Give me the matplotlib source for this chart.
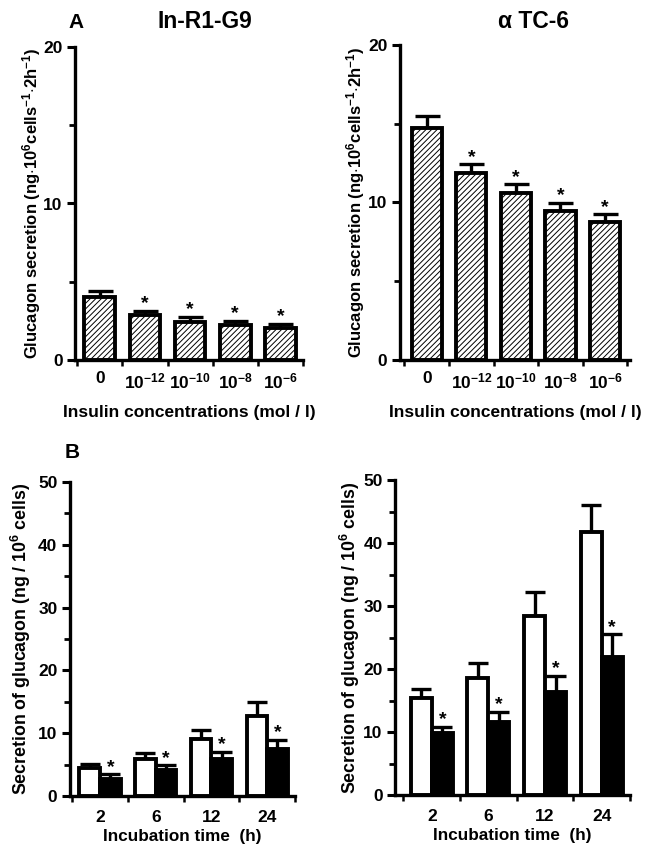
import matplotlib
matplotlib.use("Agg")
import matplotlib.pyplot as plt
import numpy as np

plt.rcParams.update({
    "font.family": ["Liberation Sans", "DejaVu Sans"],
    "font.weight": "bold",
    "axes.labelweight": "bold",
    "font.size": 12,
    "mathtext.fontset": "custom",
    "mathtext.rm": "Liberation Sans:bold",
    "mathtext.it": "Liberation Sans:bold",
    "mathtext.bf": "Liberation Sans:bold",
    "mathtext.default": "rm",
    "hatch.linewidth": 0.7,
    "axes.linewidth": 2.4,
})

# --- данные ---
conc_labels = ["0", "$10^{-12}$", "$10^{-10}$", "$10^{-8}$", "$10^{-6}$"]
inr_dose = [4.0, 2.85, 2.45, 2.22, 2.02]
inr_dose_err = [0.4, 0.3, 0.32, 0.27, 0.3]
atc_dose = [14.7, 11.85, 10.62, 9.48, 8.78]
atc_dose_err = [0.8, 0.57, 0.53, 0.51, 0.47]
dose_star = [False, True, True, True, True]

hours = ["2", "6", "12", "24"]
inr_ctrl = [4.5, 5.95, 9.1, 12.8]
inr_ctrl_err = [0.65, 0.95, 1.35, 2.1]
inr_ins = [2.75, 4.1, 5.95, 7.55]
inr_ins_err = [0.7, 0.8, 1.05, 1.4]
atc_ctrl = [15.4, 18.55, 28.4, 41.7]
atc_ctrl_err = [1.4, 2.35, 3.8, 4.4]
atc_ins = [9.85, 11.55, 16.4, 21.9]
atc_ins_err = [1.0, 1.6, 2.5, 3.6]

W, H = 657, 851
fig = plt.figure(figsize=(W / 100, H / 100), dpi=100)


def px_axes(x0, x1, ytop, ybot):
    return fig.add_axes([x0 / W, 1 - ybot / H, (x1 - x0) / W, (ybot - ytop) / H])


def style(ax, ymax, ystep, xlim, bounds, xpad):
    for s in ("top", "right"):
        ax.spines[s].set_visible(False)
    ax.set_ylim(0, ymax)
    ax.set_xlim(*xlim)
    ax.set_yticks(np.arange(0, ymax + 0.1, ystep))
    ax.set_yticks(np.arange(ystep / 2, ymax, ystep), minor=True)
    ax.tick_params(axis="y", which="major", length=6, width=2.2, labelsize=12.5, pad=3)
    ax.tick_params(axis="y", which="minor", length=4, width=2)
    ax.set_xticks(bounds, minor=True)
    ax.tick_params(axis="x", which="minor", length=4, width=1.8, direction="out")
    ax.tick_params(axis="x", which="major", length=0, labelsize=12.5, pad=xpad)


def star(ax, x, y):
    ax.annotate("*", (x, y), xytext=(0, -1), textcoords="offset points",
                ha="center", va="bottom", fontsize=14, fontweight="bold")


def dose_panel(ax, means, errs, xlim, ylabel, ypad):
    x = np.arange(len(means))
    ax.errorbar(x, means, yerr=[np.zeros(len(errs)), errs], fmt="none", ecolor="k",
                elinewidth=2.4, capsize=9, capthick=2.4, zorder=1)
    ax.bar(x, means, width=0.68, color="white", edgecolor="k", hatch="//////",
           linewidth=2.8, zorder=2)
    for xi, m, e, s in zip(x, means, errs, dose_star):
        if s:
            star(ax, xi, m + e)
    style(ax, 20, 10, xlim, np.arange(-0.5, len(means), 1.0), 8)
    ax.set_xticks(x)
    ax.set_xticklabels(conc_labels)
    ax.set_xlabel("Insulin concentrations (mol / l)", fontsize=12.5, labelpad=10)
    ax.set_ylabel(ylabel, fontsize=12, labelpad=ypad)


def time_panel(ax, ctrl, ctrl_err, ins, ins_err, xlim, ylabel, ypad):
    x = np.arange(len(ctrl))
    w = 0.37
    ax.errorbar(x - w / 2, ctrl, yerr=[np.zeros(4), ctrl_err], fmt="none", ecolor="k",
                elinewidth=2.4, capsize=7, capthick=2.4, zorder=1)
    ax.errorbar(x + w / 2, ins, yerr=[np.zeros(4), ins_err], fmt="none", ecolor="k",
                elinewidth=2.4, capsize=7, capthick=2.4, zorder=1)
    ax.bar(x - w / 2, ctrl, width=w, color="white", edgecolor="k", linewidth=2.8, zorder=2)
    ax.bar(x + w / 2, ins, width=w, color="black", edgecolor="k", linewidth=2.8, zorder=2)
    for xi, m, e in zip(x, ins, ins_err):
        star(ax, xi + w / 2, m + e)
    style(ax, 50, 10, xlim, np.arange(-0.5, len(ctrl), 1.0), 10)
    ax.set_xticks(x)
    ax.set_xticklabels(hours)
    ax.set_xlabel("Incubation time  (h)", fontsize=12.3, labelpad=3)
    ax.set_ylabel(ylabel, fontsize=12.8, labelpad=ypad)


ylab_a = "Glucagon secretion (ng$\\cdot$10$^6$cells$^{-1}$$\\cdot$2h$^{-1}$)"
ylab_b = "Secretion of glucagon (ng / 10$^6$ cells)"

ax1 = px_axes(75, 303, 47, 360)
dose_panel(ax1, inr_dose, inr_dose_err, (-0.55, 4.5), ylab_a, 0)
ax2 = px_axes(400, 630, 45, 360)
dose_panel(ax2, atc_dose, atc_dose_err, (-0.6, 4.56), ylab_a, 1)
ax3 = px_axes(70, 295, 482, 796)
time_panel(ax3, inr_ctrl, inr_ctrl_err, inr_ins, inr_ins_err, (-0.54, 3.48), ylab_b, 3.5)
ax4 = px_axes(395, 630, 480, 795)
time_panel(ax4, atc_ctrl, atc_ctrl_err, atc_ins, atc_ins_err, (-0.65, 3.47), ylab_b, 1)

fig.text(68 / W, 1 - 22 / H, "A", fontsize=15, fontweight="bold", va="center")
fig.text(205 / W, 1 - 22 / H, "In-R1-G9", fontsize=16.5, fontweight="bold",
         ha="center", va="center")
fig.text(533 / W, 1 - 22 / H, "α TC-6", fontsize=16.5, fontweight="bold",
         ha="center", va="center")
fig.text(65 / W, 1 - 453 / H, "B", fontsize=15, fontweight="bold", va="center")

fig.savefig("out.png", dpi=100)
